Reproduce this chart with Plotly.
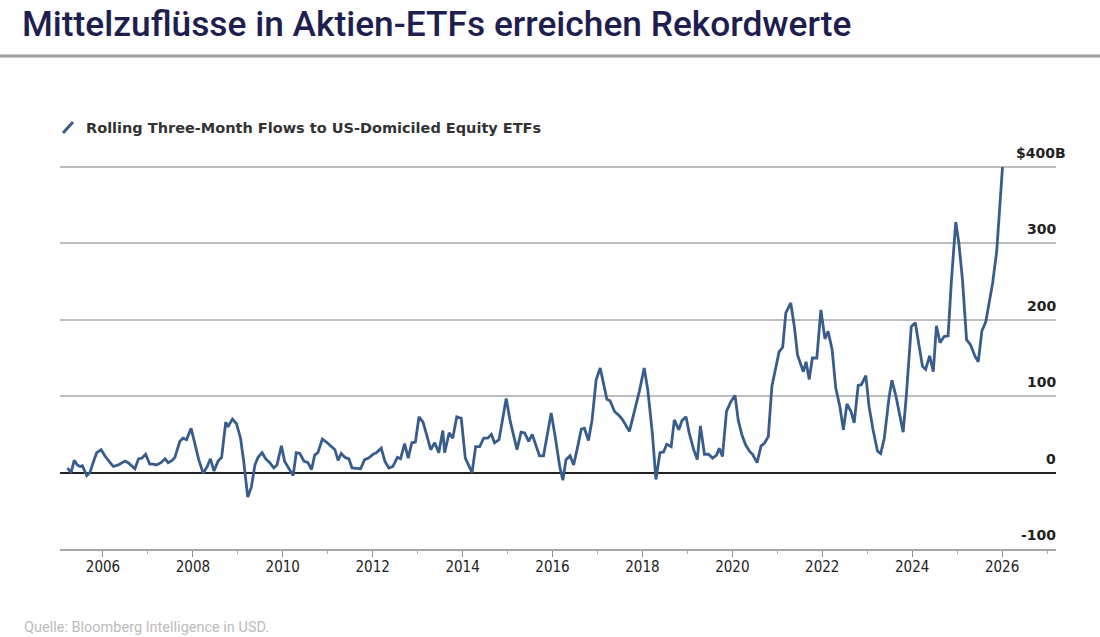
import plotly.graph_objects as go

# ---- data (decimal year, US$ bn) ----
years = [2005.21, 2005.29, 2005.36, 2005.43, 2005.49, 2005.54, 2005.64, 2005.71, 2005.78, 2005.86, 2005.96,
         2006.04, 2006.16, 2006.23, 2006.34, 2006.49, 2006.56, 2006.71, 2006.79, 2006.87, 2006.95,
         2007.04, 2007.12, 2007.19, 2007.29, 2007.38, 2007.45, 2007.54, 2007.60, 2007.71, 2007.78, 2007.86, 2007.96,
         2008.04, 2008.13, 2008.23, 2008.32, 2008.39, 2008.47, 2008.56, 2008.64, 2008.73, 2008.78, 2008.88, 2008.97,
         2009.06, 2009.13, 2009.22, 2009.30, 2009.38, 2009.45, 2009.54, 2009.62, 2009.71, 2009.80, 2009.87, 2009.97,
         2010.04, 2010.13, 2010.23, 2010.30, 2010.38, 2010.47, 2010.56, 2010.64, 2010.71, 2010.78, 2010.88, 2010.97,
         2011.08, 2011.16, 2011.23, 2011.30, 2011.38, 2011.47, 2011.54, 2011.64, 2011.73, 2011.82, 2011.91,
         2012.01, 2012.08, 2012.19, 2012.27, 2012.36, 2012.45, 2012.55, 2012.62, 2012.71, 2012.79, 2012.87, 2012.95,
         2013.03, 2013.12, 2013.22, 2013.29, 2013.38, 2013.47, 2013.56, 2013.60, 2013.70, 2013.78, 2013.87, 2013.97,
         2014.06, 2014.21, 2014.29, 2014.38, 2014.47, 2014.56, 2014.64, 2014.71, 2014.81, 2014.90, 2014.97,
         2015.06, 2015.13, 2015.21, 2015.30, 2015.38, 2015.47, 2015.55, 2015.64, 2015.71, 2015.80, 2015.87, 2015.97,
         2016.06, 2016.16, 2016.23, 2016.30, 2016.39, 2016.47, 2016.56, 2016.64, 2016.71, 2016.80, 2016.88, 2016.97,
         2017.06, 2017.13, 2017.21, 2017.28, 2017.38, 2017.49, 2017.56, 2017.71, 2017.81, 2017.93,
         2018.04, 2018.12, 2018.22, 2018.30, 2018.39, 2018.47, 2018.54, 2018.64, 2018.71, 2018.81, 2018.88, 2018.97,
         2019.04, 2019.14, 2019.22, 2019.29, 2019.38, 2019.47, 2019.56, 2019.65, 2019.71, 2019.78, 2019.87, 2019.97,
         2020.06, 2020.13, 2020.21, 2020.29, 2020.38, 2020.45, 2020.55, 2020.64, 2020.71, 2020.80, 2020.88, 2020.96,
         2021.04, 2021.12, 2021.19, 2021.30, 2021.38, 2021.45, 2021.53, 2021.58, 2021.64, 2021.71, 2021.78, 2021.88, 2021.97,
         2022.06, 2022.13, 2022.22, 2022.30, 2022.39, 2022.47, 2022.55, 2022.64, 2022.71, 2022.80, 2022.87, 2022.97,
         2023.04, 2023.13, 2023.23, 2023.30, 2023.38, 2023.49, 2023.55, 2023.64, 2023.73, 2023.80, 2023.87, 2023.98,
         2024.07, 2024.14, 2024.23, 2024.30, 2024.39, 2024.47, 2024.54, 2024.62, 2024.71, 2024.80, 2024.87, 2024.97,
         2025.04, 2025.12, 2025.21, 2025.30, 2025.40, 2025.47, 2025.55, 2025.64, 2025.71, 2025.79, 2025.88, 2025.94,
         2026.01]

flows = [6, 0, 16, 10, 8, 9, -4, 0, 13, 26, 30,
         22, 13, 8, 10, 15, 13, 5, 18, 19, 24,
         11, 11, 10, 13, 18, 13, 16, 20, 41, 45, 43, 58,
         39, 17, -1, 8, 18, 2, 15, 20, 66, 60, 70, 64,
         45, 15, -32, -19, 10, 20, 26, 18, 13, 6, 10, 35,
         15, 6, -4, 26, 25, 15, 13, 4, 23, 26, 44, 40,
         34, 30, 16, 25, 20, 18, 6, 5, 5, 17, 19,
         24, 26, 32, 15, 6, 8, 20, 18, 38, 19, 39, 40,
         73, 66, 45, 30, 39, 26, 55, 26, 52, 45, 73, 71,
         19, 0, 34, 34, 45, 45, 50, 39, 43, 73, 97,
         67, 50, 30, 53, 52, 41, 50, 34, 22, 22, 47, 78,
         47, 8, -10, 17, 22, 10, 34, 57, 58, 42, 69, 121,
         137, 117, 96, 94, 80, 74, 69, 54, 78, 106,
         137, 108, 52, -9, 26, 27, 37, 34, 69, 56, 68, 73,
         52, 30, 17, 61, 24, 24, 19, 23, 32, 21, 80, 93,
         101, 69, 50, 37, 28, 24, 13, 35, 38, 47, 113, 135,
         158, 164, 209, 222, 191, 154, 139, 132, 145, 122, 150, 150, 213,
         175, 185, 161, 111, 87, 56, 90, 80, 65, 114, 115, 127,
         87, 56, 28, 25, 45, 100, 121, 100, 74, 53, 100, 191,
         196, 171, 139, 135, 153, 132, 192, 170, 178, 179, 248, 328,
         300, 252, 174, 167, 152, 145, 185, 198, 222, 248, 289, 343,
         400]

series_name = "Rolling Three-Month Flows to US-Domiciled Equity ETFs"
x_tick_vals = list(range(2006, 2027, 2))
x_tick_text = [str(v) for v in x_tick_vals]
y_tick_vals = [-100, 0, 100, 200, 300, 400]
y_tick_text = ["-100", "0", "100", "200", "300", "$400B"]

title_text = "Mittelzuflüsse in Aktien-ETFs erreichen Rekordwerte"
source_text = "Quelle: Bloomberg Intelligence in USD."

# ---- layout geometry (pixels) ----
W, H = 1100, 637
L, R, T, B = 60, 44, 165, 88
PW, PH = W - L - R, H - T - B


def px(xp):
    return (xp - L) / PW


def py(yp):
    return (H - B - yp) / PH


LINE_COLOR = "#385d8c"
COND = "DejaVu Sans Condensed, DejaVu Sans, sans-serif"
VERD = "DejaVu Sans, Verdana, sans-serif"

fig = go.Figure()
fig.add_trace(go.Scatter(x=years, y=flows, mode="lines", name=series_name,
                         line=dict(color=LINE_COLOR, width=2.8), showlegend=False))

fig.update_layout(
    width=W, height=H,
    margin=dict(l=L, r=R, t=T, b=B),
    paper_bgcolor="white", plot_bgcolor="white",
    title=dict(text=title_text, xref="container", yref="container",
               x=22 / W, y=1 - 24 / H, xanchor="left", yanchor="middle",
               font=dict(family="Roboto, sans-serif", size=35.3, color="#1e1e4f", weight=500)),
    xaxis=dict(range=[2005.044, 2027.2], tickmode="array", tickvals=x_tick_vals, ticktext=x_tick_text,
               showgrid=False, zeroline=False, showline=True, linecolor="#a6a6a6", linewidth=2,
               ticks="outside", ticklen=6, tickwidth=1.2, tickcolor="#8c8c8c", ticklabelstandoff=-3,
               minor=dict(tickvals=list(range(2005, 2028)), ticks="outside", ticklen=3,
                          tickcolor="#b0b0b0", tickwidth=1, showgrid=False),
               tickfont=dict(family=COND, size=15, color="#222222")),
    yaxis=dict(range=[-100, 402.6], side="right", tickmode="array", tickvals=y_tick_vals,
               showticklabels=False,
               showgrid=True, gridcolor="#bdbdbd", gridwidth=1.5,
               zeroline=True, zerolinecolor="#222222", zerolinewidth=1.5, ticks=""),
    showlegend=False,
)

# y-axis value labels: right-aligned, sitting just above each gridline
for v, t in zip(y_tick_vals, y_tick_text):
    fig.add_annotation(text=t, xref="paper", yref="y", x=px(1068 if t.startswith("$") else 1058), y=v,
                       xanchor="right", yanchor="bottom", yshift=4, showarrow=False,
                       font=dict(family=VERD, size=14, color="#222222", weight="bold"))

# separator line under the title
fig.add_shape(type="line", xref="paper", yref="paper", x0=px(0), x1=px(W), y0=py(56), y1=py(56),
              line=dict(color="#9e9e9e", width=3))
# legend icon (diagonal stroke) and label
fig.add_shape(type="line", xref="paper", yref="paper", x0=px(63), x1=px(73), y0=py(133), y1=py(122),
              line=dict(color=LINE_COLOR, width=3))
fig.add_annotation(text=series_name, xref="paper", yref="paper", x=px(84), y=py(128),
                   xanchor="left", yanchor="middle", showarrow=False,
                   font=dict(family=VERD, size=14.5, color="#333333", weight="bold"))
# source note
fig.add_annotation(text=source_text, xref="paper", yref="paper", x=px(22), y=py(627),
                   xanchor="left", yanchor="middle", showarrow=False,
                   font=dict(family="Roboto, sans-serif", size=14.5, color="#bbbbbb"))

fig.write_html("out.html", config={"displayModeBar": False},
               post_script="document.body.style.margin='0';")
